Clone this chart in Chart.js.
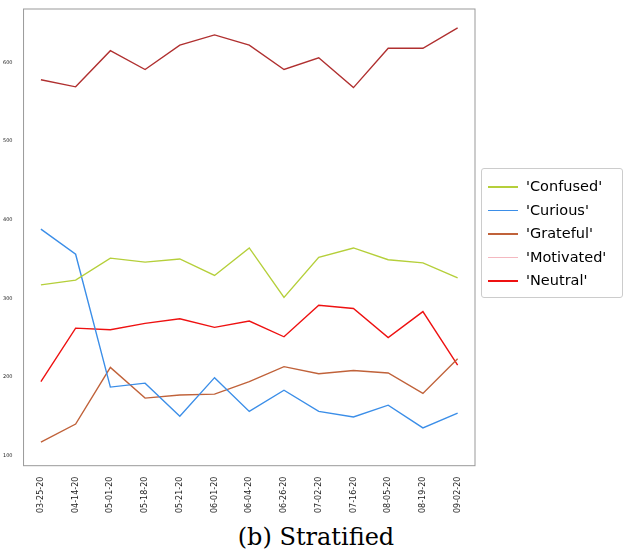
<!DOCTYPE html>
<html>
<head>
<script src="https://cdn.jsdelivr.net/npm/chart.js@4/dist/chart.umd.min.js"></script>
<style>
body{margin:0;background:#fff;}
#wrap{width:632px;height:516px;position:relative;}
#cap{font-family:"DejaVu Serif",serif;font-size:24px;line-height:30px;text-align:center;width:632px;margin-top:6px;}
#legend{position:absolute;left:481px;top:168px;width:142px;height:130px;border:1px solid #ccc;border-radius:3px;box-sizing:border-box;padding:6px 0 0 6px;font-family:"DejaVu Sans",sans-serif;font-size:14.5px;}
#legend div{height:23.5px;line-height:23.5px;white-space:nowrap;}
#legend i{display:inline-block;width:30px;height:1.5px;vertical-align:middle;margin-right:8px;}
</style>
</head>
<body>
<div id="wrap"><canvas id="c"></canvas><div id="legend"></div></div>
<div id="cap">(b) Stratified</div>
<script>
const labels=["03-25-20","04-14-20","05-01-20","05-18-20","05-21-20","06-01-20","06-04-20","06-26-20","07-02-20","07-16-20","08-05-20","08-19-20","09-02-20"];
const topSeries=[578,569,615,591,622,635,622,591,606,568,618,618,644];
const confused=[317,323,351,346,350,329,364,301,352,364,349,345,326];
const curious=[388,356,187,192,150,199,156,183,156,149,164,135,154];
const grateful=[117,140,212,173,177,178,194,213,204,208,205,179,223];
const motivated=[null,null,null,null,null,null,null,null,null,null,null,null,null];
const neutral=[194,262,260,268,274,263,271,251,291,287,250,283,215];
const legendNames=["'Confused'","'Curious'","'Grateful'","'Motivated'","'Neutral'"];
const legendColors=["#b5cf3a","#3b8ee8","#c0623a","#f4b8c0","#ee1111"];

const frame={
id:"frame",
afterDraw(chart){
const ctx=chart.ctx,a=chart.chartArea;
ctx.save();
ctx.strokeStyle="#999";ctx.lineWidth=1;
ctx.strokeRect(a.left,a.top,a.right-a.left,a.bottom-a.top);
ctx.restore();
}
};

function ds(label,data,color){
return {label:label,data:data,borderColor:color,backgroundColor:color,borderWidth:1.4,pointRadius:0,fill:false,tension:0};
}

const series=[confused,curious,grateful,motivated,neutral];
const datasets=series.map((s,i)=>ds(legendNames[i],s,legendColors[i]));
datasets.push(ds("top",topSeries,"#b03030"));

new Chart(document.getElementById("c"),{
type:"line",
data:{labels:labels,datasets:datasets},
options:{
responsive:true,maintainAspectRatio:false,animation:false,
layout:{padding:{left:0,right:157,top:9,bottom:0}},
plugins:{legend:{display:false},tooltip:{enabled:false}},
scales:{
x:{
grid:{display:false},border:{display:false},
ticks:{color:"#222",font:{family:"DejaVu Sans",size:8},minRotation:90,maxRotation:90,autoSkip:false},
offset:true
},
y:{
min:87,max:668,
grid:{display:false},border:{display:false},
afterBuildTicks:(s)=>{s.ticks=[100,200,300,400,500,600].map(v=>({value:v}));},
ticks:{color:"#222",font:{family:"DejaVu Sans",size:5}}
}
}
},
plugins:[frame]
});

const lg=document.getElementById("legend");
legendNames.forEach((n,i)=>{
const row=document.createElement("div");
const sw=document.createElement("i");
sw.style.background=legendColors[i];
row.appendChild(sw);
row.appendChild(document.createTextNode(n));
lg.appendChild(row);
});
</script>
</body>
</html>
